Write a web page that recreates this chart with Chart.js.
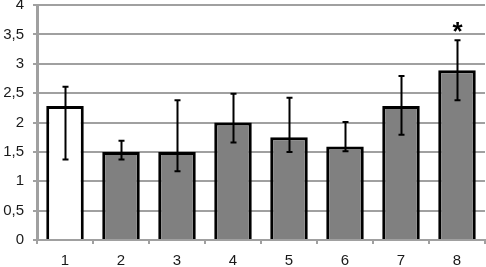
<!DOCTYPE html>
<html>
<head>
<meta charset="utf-8">
<script src="https://cdn.jsdelivr.net/npm/chart.js@4"></script>
<style>
  html, body { margin: 0; padding: 0; background: #fff; }
  #wrap { width: 486px; height: 267px; }
</style>
</head>
<body>
<div id="wrap"><canvas id="barChart"></canvas></div>
<script>
const categories = ['1', '2', '3', '4', '5', '6', '7', '8'];
const means = [2.28, 1.5, 1.5, 2.0, 1.75, 1.59, 2.28, 2.89];
const errLow = [1.37, 1.37, 1.17, 1.66, 1.5, 1.51, 1.79, 2.38];
const errHigh = [2.61, 1.69, 2.38, 2.49, 2.42, 2.01, 2.79, 3.4];
const marks = ['', '', '', '', '', '', '', '*'];
const barColors = ['#ffffff', '#808080', '#808080', '#808080', '#808080', '#808080', '#808080', '#808080'];

// error bars + significance star, drawn from the scales
const errorBars = {
  id: 'errorBars',
  afterDatasetsDraw(chart) {
    const ctx = chart.ctx;
    const y = chart.scales.y;
    const meta = chart.getDatasetMeta(0);
    ctx.save();
    ctx.strokeStyle = '#000';
    ctx.lineWidth = 2;
    meta.data.forEach((bar, i) => {
      const x = Math.round(bar.x) + 0.5;
      const yLo = y.getPixelForValue(errLow[i]);
      const yHi = y.getPixelForValue(errHigh[i]);
      ctx.beginPath();
      ctx.moveTo(x, yLo); ctx.lineTo(x, yHi);
      ctx.moveTo(x - 3, yLo); ctx.lineTo(x + 3, yLo);
      ctx.moveTo(x - 3, yHi); ctx.lineTo(x + 3, yHi);
      ctx.stroke();
      if (marks[i]) {
        ctx.fillStyle = '#000';
        ctx.font = 'bold 26px "Liberation Sans", Arial, sans-serif';
        ctx.textAlign = 'center';
        ctx.textBaseline = 'middle';
        ctx.fillText(marks[i], x, yHi - 7);
      }
    });
    ctx.restore();
  }
};

const fontSpec = { family: '"Liberation Sans", Arial, sans-serif', size: 15 };

new Chart(document.getElementById('barChart'), {
  type: 'bar',
  data: {
    labels: categories,
    datasets: [{
      data: means,
      backgroundColor: barColors,
      borderColor: '#000',
      borderWidth: 3,
      borderSkipped: 'bottom',
      barPercentage: 0.67,
      categoryPercentage: 1.0
    }]
  },
  options: {
    responsive: true,
    maintainAspectRatio: false,
    animation: false,
    layout: { padding: { top: 5, right: 1, left: 0, bottom: 0 } },
    plugins: {
      legend: { display: false },
      tooltip: { enabled: false }
    },
    scales: {
      x: {
        grid: {
          display: true,
          drawOnChartArea: false,
          color: '#a0a0a0',
          lineWidth: 2,
          tickLength: 4,
          offset: true
        },
        border: { color: '#a0a0a0', width: 2 },
        ticks: {
          color: '#1a1a1a',
          padding: 8,
          font: fontSpec
        },
        afterFit(scale) { scale.height = 27; scale.paddingLeft = 0; scale.paddingRight = 0; }
      },
      y: {
        min: 0,
        max: 4,
        ticks: {
          stepSize: 0.5,
          color: '#1a1a1a',
          padding: 9,
          font: fontSpec,
          callback: v => String(v).replace('.', ',')
        },
        grid: {
          color: '#a0a0a0',
          lineWidth: 2,
          drawTicks: true,
          tickLength: 4
        },
        border: { color: '#a0a0a0', width: 3 },
        afterFit(scale) { scale.width = 37; scale.paddingTop = 0; scale.paddingBottom = 0; }
      }
    }
  },
  plugins: [errorBars]
});
</script>
</body>
</html>
